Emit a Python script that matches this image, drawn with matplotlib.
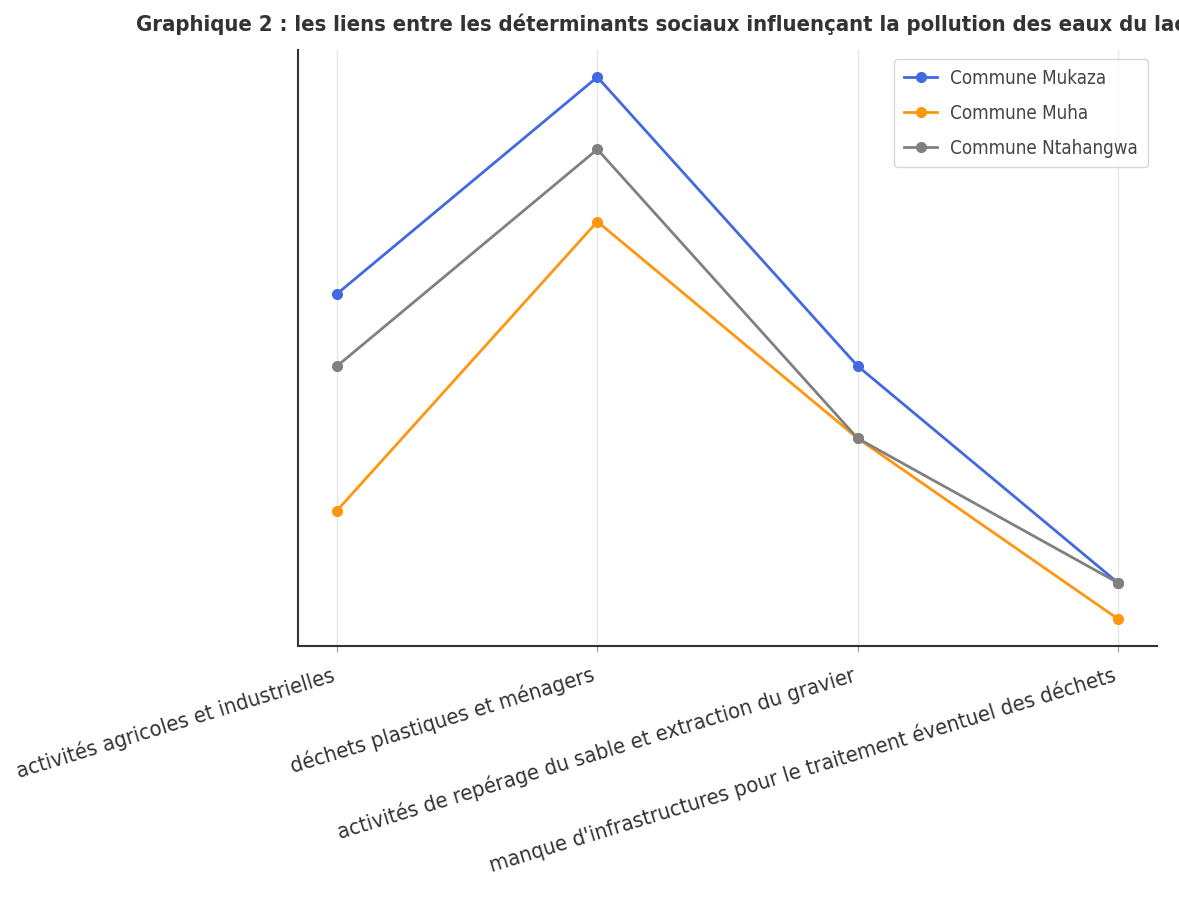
import matplotlib
matplotlib.use("Agg")
import matplotlib.pyplot as plt

categories = [
    "activités agricoles et industrielles",
    "déchets plastiques et ménagers",
    "activités de repérage du sable et extraction du gravier",
    "manque d'infrastructures pour le traitement éventuel des déchets",
]
mukaza = [50, 80, 40, 10]
muha = [20, 60, 30, 5]
ntahangwa = [40, 70, 30, 10]

plt.rcParams['font.family'] = ['DejaVu Sans']

fig = plt.figure(figsize=(11.79, 8.99), dpi=100)
ax = fig.add_axes([298 / 1179, 1 - 646 / 899, (1157 - 298) / 1179, (646 - 50) / 899])

x = range(len(categories))
ax.plot(x, mukaza, marker='o', color='#4169E1', lw=2, ms=7, label='Commune Mukaza')
ax.plot(x, muha, marker='o', color='#FF9610', lw=2, ms=7, label='Commune Muha')
ax.plot(x, ntahangwa, marker='o', color='#808080', lw=2, ms=7, label='Commune Ntahangwa')

ax.set_xticks(list(x))
ax.set_xticklabels(categories, rotation=17, ha='right', fontsize=15.8, color='#333333',
                   fontstretch='condensed')
ax.set_yticks([])
ax.grid(axis='x', color='#e6e6e6', lw=1)
ax.set_axisbelow(True)
for s in ['top', 'right']:
    ax.spines[s].set_visible(False)
ax.spines['left'].set_color('#333333')
ax.spines['bottom'].set_color('#333333')
ax.spines['left'].set_linewidth(1.5)
ax.spines['bottom'].set_linewidth(1.5)
ax.tick_params(axis='x', length=4, color='#999999', pad=9)

ax.set_title("Graphique 2 : les liens entre les déterminants sociaux influençant la pollution des eaux du lac Tanganyika",
             fontsize=15.8, fontweight='bold', color='#333333', fontstretch='condensed', pad=14)
ax.legend(loc='upper right', labelcolor='#444444',
          prop={'stretch': 'condensed', 'size': 13.5}, handlelength=1.8,
          borderpad=0.5, labelspacing=0.85, handletextpad=0.7)

fig.savefig("out.png", dpi=100)
